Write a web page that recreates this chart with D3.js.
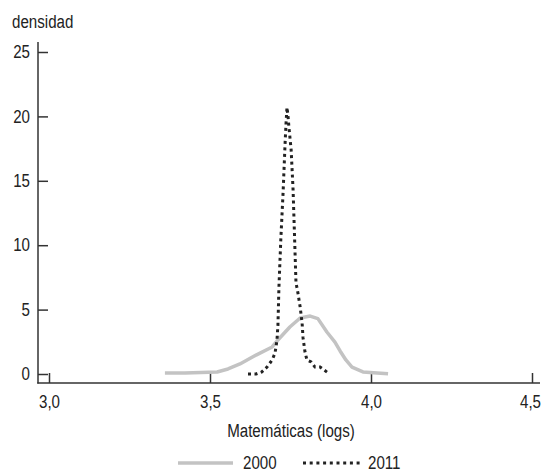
<!DOCTYPE html>
<html>
<head>
<meta charset="utf-8">
<script src="https://cdn.jsdelivr.net/npm/d3@7"></script>
<style>
  body { margin: 0; background: #fff; }
  svg text { font-family: "Liberation Sans Narrow", "Arial Narrow", "Liberation Sans", sans-serif; fill: #222; }
</style>
</head>
<body>
<svg></svg>
<script>
// densidad de puntajes de matematicas (logs)
var x2000 = [3.360, 3.422, 3.522, 3.556, 3.593, 3.643, 3.693, 3.708, 3.748, 3.780, 3.811, 3.835, 3.863, 3.888, 3.904, 3.922, 3.941, 3.975, 4.019, 4.053];
var y2000 = [0.08, 0.08, 0.16, 0.39, 0.78, 1.47, 2.10, 2.56, 3.65, 4.35, 4.50, 4.30, 3.26, 2.48, 1.79, 1.09, 0.54, 0.16, 0.08, 0.02];

var x2011 = [3.618, 3.643, 3.661, 3.677, 3.693, 3.702, 3.708, 3.711, 3.714, 3.720, 3.727, 3.733, 3.736, 3.739, 3.742, 3.745, 3.752, 3.758, 3.767, 3.773, 3.780, 3.786, 3.789, 3.795, 3.801, 3.814, 3.826, 3.842, 3.867];
var y2011 = [0.0, 0.0, 0.16, 0.54, 1.09, 1.63, 2.64, 3.80, 6.68, 10.5, 14.1, 17.8, 19.4, 20.7, 20.1, 19.2, 17.4, 14.3, 7.1, 6.3, 5.2, 3.96, 2.80, 1.71, 1.09, 0.93, 0.54, 0.54, 0.08];

var xTicks = [3.0, 3.5, 4.0, 4.5];
var yTicks = [0, 5, 10, 15, 20, 25];
var series = ["2000", "2011"];

var W = 544, H = 472;
var svg = d3.select("svg").attr("width", W).attr("height", H);

var x = d3.scaleLinear().domain([3.0, 4.5]).range([49, 532]);
var y = d3.scaleLinear().domain([0, 25]).range([374, 52]);

var es = d3.formatLocale({decimal: ",", thousands: ".", grouping: [3], currency: ["", "€"]});

var axisColor = "#333";

// y axis
var gy = svg.append("g").attr("transform", "translate(38,0)")
    .call(d3.axisLeft(y).tickValues(yTicks).tickSizeInner(-10).tickSizeOuter(0).tickPadding(8));
gy.select(".domain").remove();
gy.selectAll("line").attr("stroke", axisColor).attr("stroke-width", 1.5);
gy.selectAll("text").attr("font-size", 18).style("fill", "#222");
svg.append("line").attr("x1", 38).attr("x2", 38).attr("y1", 42).attr("y2", 383.5)
    .attr("stroke", axisColor).attr("stroke-width", 1.5);

// x axis
var gx = svg.append("g").attr("transform", "translate(0,383)")
    .call(d3.axisBottom(x).tickValues(xTicks).tickFormat(es.format(".1f")).tickSizeInner(-10).tickSizeOuter(0).tickPadding(12));
gx.select(".domain").remove();
gx.selectAll("line").attr("stroke", axisColor).attr("stroke-width", 1.5);
gx.selectAll("text").attr("font-size", 18).style("fill", "#222");
// last label sits at the right edge, pull it in a little
gx.selectAll("text").filter(function(d) { return d === 4.5; }).attr("dx", -2);
svg.append("line").attr("x1", 37.25).attr("x2", 540).attr("y1", 383).attr("y2", 383)
    .attr("stroke", axisColor).attr("stroke-width", 1.5);

// labels
svg.append("text").attr("x", 12).attr("y", 28).attr("font-size", 18).text("densidad");
svg.append("text").attr("x", 291).attr("y", 437).attr("text-anchor", "middle")
    .attr("font-size", 18).text("Matemáticas (logs)");

var line = d3.line()
    .x(function(d) { return x(d[0]); })
    .y(function(d) { return y(d[1]); });

svg.append("path")
    .datum(d3.zip(x2000, y2000))
    .attr("fill", "none")
    .attr("stroke", "#c3c3c3")
    .attr("stroke-width", 3.5)
    .attr("stroke-linejoin", "round")
    .attr("d", line);

svg.append("path")
    .datum(d3.zip(x2011, y2011))
    .attr("fill", "none")
    .attr("stroke", "#222")
    .attr("stroke-width", 3)
    .attr("stroke-dasharray", "3,3.5")
    .attr("d", line);

// legend
var lg = svg.append("g");
lg.append("line").attr("x1", 178).attr("x2", 233).attr("y1", 463).attr("y2", 463)
    .attr("stroke", "#c3c3c3").attr("stroke-width", 3.5);
lg.append("text").attr("x", 243).attr("y", 469).attr("font-size", 18).text(series[0]);
lg.append("line").attr("x1", 303).attr("x2", 363).attr("y1", 463).attr("y2", 463)
    .attr("stroke", "#222").attr("stroke-width", 3).attr("stroke-dasharray", "3,3.7");
lg.append("text").attr("x", 368).attr("y", 469).attr("font-size", 18).text(series[1]);

// no narrow font installed: squeeze the text to look condensed
svg.selectAll("text").each(function() {
  var w = this.getComputedTextLength();
  d3.select(this).attr("textLength", (w * 0.84).toFixed(1)).attr("lengthAdjust", "spacingAndGlyphs");
});
</script>
</body>
</html>
